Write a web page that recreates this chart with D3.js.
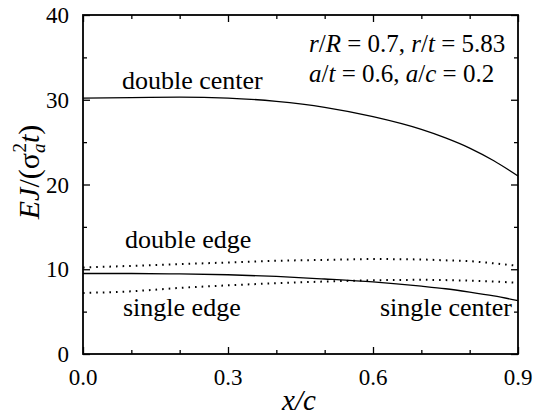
<!DOCTYPE html>
<html>
<head>
<meta charset="utf-8">
<script src="https://cdn.jsdelivr.net/npm/d3@7/dist/d3.min.js"></script>
</head>
<body style="margin:0">
<svg id="chart" width="536" height="415"></svg>
<script>
const W = 536, H = 415;
const MARGIN = { LEFT: 83, RIGHT: 18, TOP: 15, BOTTOM: 61 };
const innerW = W - MARGIN.LEFT - MARGIN.RIGHT;
const innerH = H - MARGIN.TOP - MARGIN.BOTTOM;
const FONT = '"Liberation Serif"';

// x/c positions where the curves were read
const xs = [0.0, 0.1, 0.2, 0.3, 0.4, 0.5, 0.6, 0.7, 0.75, 0.8, 0.85, 0.9];

const doubleCenter = [30.2, 30.25, 30.3, 30.2, 29.8, 29.1, 28.0, 26.5, 25.5, 24.3, 22.8, 21.0];
const singleCenter = [9.5, 9.5, 9.45, 9.35, 9.15, 8.85, 8.5, 8.0, 7.7, 7.3, 6.85, 6.3];
const doubleEdge   = [10.2, 10.4, 10.6, 10.8, 11.0, 11.1, 11.2, 11.15, 11.05, 10.95, 10.7, 10.4];
const singleEdge   = [7.2, 7.4, 7.8, 8.1, 8.35, 8.55, 8.7, 8.75, 8.72, 8.65, 8.55, 8.4];

const xTicks = [0.0, 0.3, 0.6, 0.9];
const xMinor = [0.1, 0.2, 0.4, 0.5, 0.7, 0.8];
const yTicks = [0, 10, 20, 30, 40];
const yMinor = [5, 15, 25, 35];

const svg = d3.select("#chart");

const g = svg.append("g")
    .attr("transform", `translate(${MARGIN.LEFT}, ${MARGIN.TOP})`);

const x = d3.scaleLinear().domain([0, 0.9]).range([0, innerW]);
const y = d3.scaleLinear().domain([0, 40]).range([innerH, 0]);

// ticks on all four sides, pointing inward; the axis's own font settings are dropped
function tickAxis(axis, values, size, transform) {
    const a = g.append("g")
        .attr("transform", transform)
        .call(axis.tickValues(values).tickSize(size).tickFormat(""));
    a.attr("font-family", null).attr("font-size", null).attr("text-anchor", null);
    a.select(".domain").remove();
    a.selectAll("text").remove();
    a.selectAll("line").attr("stroke", "#000").attr("stroke-width", 1.3);
}
tickAxis(d3.axisTop(x), xTicks, 7, `translate(0,${innerH})`);
tickAxis(d3.axisTop(x), xMinor, 4, `translate(0,${innerH})`);
tickAxis(d3.axisBottom(x), xTicks, 7, "translate(0,0)");
tickAxis(d3.axisBottom(x), xMinor, 4, "translate(0,0)");
tickAxis(d3.axisRight(y), yTicks, 7, "translate(0,0)");
tickAxis(d3.axisRight(y), yMinor, 4, "translate(0,0)");
tickAxis(d3.axisLeft(y), yTicks, 7, `translate(${innerW},0)`);
tickAxis(d3.axisLeft(y), yMinor, 4, `translate(${innerW},0)`);

// frame
g.append("rect")
    .attr("width", innerW)
    .attr("height", innerH)
    .attr("fill", "none")
    .attr("stroke", "#000")
    .attr("stroke-width", 1.8);

// tick labels
g.selectAll(".xlab")
    .data(xTicks)
    .enter().append("text")
    .attr("class", "xlab")
    .attr("x", d => x(d))
    .attr("y", innerH + 31)
    .attr("text-anchor", "middle")
    .attr("font-size", 23)
    .style("font-family", FONT)
    .text(d => d3.format(".1f")(d));

g.selectAll(".ylab")
    .data(yTicks)
    .enter().append("text")
    .attr("class", "ylab")
    .attr("x", -14)
    .attr("y", d => y(d) + 8)
    .attr("text-anchor", "end")
    .attr("font-size", 23)
    .style("font-family", FONT)
    .text(d => d);

// curves
const line = d3.line()
    .x(d => x(d[0]))
    .y(d => y(d[1]))
    .curve(d3.curveMonotoneX);

const series = [
    { vals: doubleCenter, dash: null },
    { vals: singleCenter, dash: null },
    { vals: doubleEdge, dash: "1.6,5" },
    { vals: singleEdge, dash: "1.6,5" }
];

series.forEach(s => {
    g.append("path")
        .datum(xs.map((v, i) => [v, s.vals[i]]))
        .attr("fill", "none")
        .attr("stroke", "#000")
        .attr("stroke-width", s.dash ? 2 : 1.3)
        .attr("stroke-dasharray", s.dash)
        .attr("d", line);
});

// curve labels
const labels = [
    { t: "double center", x: 39, y: 74, anchor: "start" },
    { t: "double edge", x: 42, y: 233, anchor: "start" },
    { t: "single edge", x: 40, y: 301, anchor: "start" },
    { t: "single center", x: 429, y: 301, anchor: "end" }
];
g.selectAll(".clab")
    .data(labels)
    .enter().append("text")
    .attr("class", "clab")
    .attr("x", d => d.x)
    .attr("y", d => d.y)
    .attr("text-anchor", d => d.anchor)
    .attr("font-size", 26)
    .style("font-family", FONT)
    .text(d => d.t);

// parameter annotation
function richLine(yPos, parts) {
    const t = g.append("text")
        .attr("x", 226)
        .attr("y", yPos)
        .attr("font-size", 25)
        .style("font-family", FONT);
    parts.forEach(p => {
        t.append("tspan")
            .attr("font-style", p[1] ? "italic" : "normal")
            .text(p[0]);
    });
}
richLine(37, [["r", 1], ["/", 0], ["R", 1], [" = 0.7, ", 0], ["r", 1], ["/", 0], ["t", 1], [" = 5.83", 0]]);
richLine(67, [["a", 1], ["/", 0], ["t", 1], [" = 0.6, ", 0], ["a", 1], ["/", 0], ["c", 1], [" = 0.2", 0]]);

// axis titles
svg.append("text")
    .attr("x", 299)
    .attr("y", 410)
    .attr("text-anchor", "middle")
    .attr("font-size", 29)
    .attr("font-style", "italic")
    .style("font-family", FONT)
    .text("x/c");

const yt = svg.append("text")
    .attr("transform", "translate(39,172) rotate(-90)")
    .attr("text-anchor", "middle")
    .attr("font-size", 30)
    .style("font-family", FONT);
yt.append("tspan").attr("font-style", "italic").text("EJ");
yt.append("tspan").text("/(σ");
yt.append("tspan").attr("font-style", "italic").attr("font-size", 19).attr("dy", 6).text("a");
yt.append("tspan").attr("font-size", 19).attr("dx", -9).attr("dy", -19).text("2");
yt.append("tspan").attr("font-style", "italic").attr("dy", 13).text("t");
yt.append("tspan").text(")");
</script>
</body>
</html>
